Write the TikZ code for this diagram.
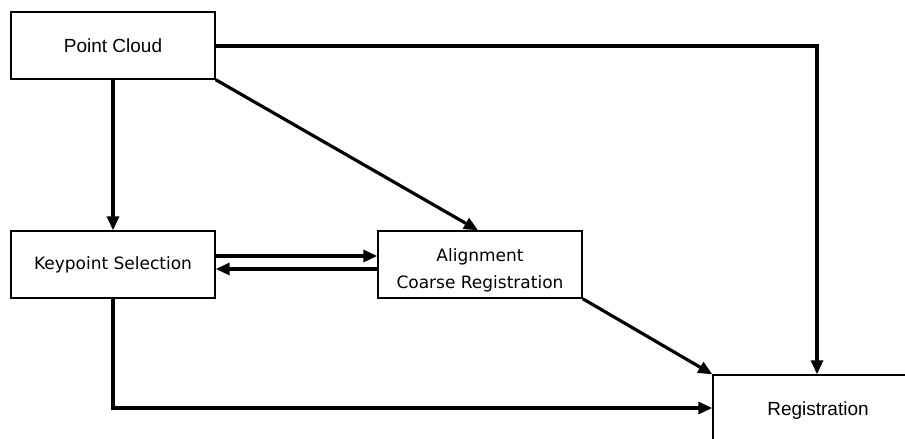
\documentclass[tikz,border=0pt]{standalone}
\usepackage{fontspec}
\setmainfont{Liberation Sans}
\newfontfamily\tahomalike{DejaVu Sans}
\usetikzlibrary{arrows.meta}
\begin{document}
\begin{tikzpicture}[x=1pt,y=-1pt,
  box/.style={draw,line width=1.4pt,rectangle,inner sep=0pt,fill=white,minimum width=204pt,minimum height=67pt},
  arial/.style={font=\fontsize{19}{22}\selectfont},
  tahoma/.style={font=\tahomalike\fontsize{17}{27}\selectfont},
  link/.style={line width=3.2pt,-{Triangle[length=14pt,width=12pt]}}]
\useasboundingbox (0,0) rectangle (905,439);
\clip (0,0) rectangle (905,439);
\node[box,arial] (pc) at (113,45.5) {Point Cloud};
\node[box,tahoma] (ks) at (113,264.5) {Keypoint Selection};
\node[box] (al) at (480,264.5) {};
\node[tahoma,align=center,inner sep=0pt] (altext) at (480,270) {Alignment\\Coarse Registration};
\node[box,arial,minimum width=210pt,minimum height=72pt] (rg) at (818,411) {Registration};
% connectors
\draw[link] (pc.east |- 0,46) -| (rg.north -| 817,0);
\draw[link] (pc.south east) -- (al.north -| 478,0);
\draw[link] (pc.south) -- (ks.north);
\draw[link] (ks.east |- 0,256) -- (al.west |- 0,256);
\draw[link] (al.west |- 0,269) -- (ks.east |- 0,269);
\draw[link] (al.south east) -- (rg.north west);
\draw[link] (ks.south) |- (rg.west |- 0,408);
\end{tikzpicture}
\end{document}
